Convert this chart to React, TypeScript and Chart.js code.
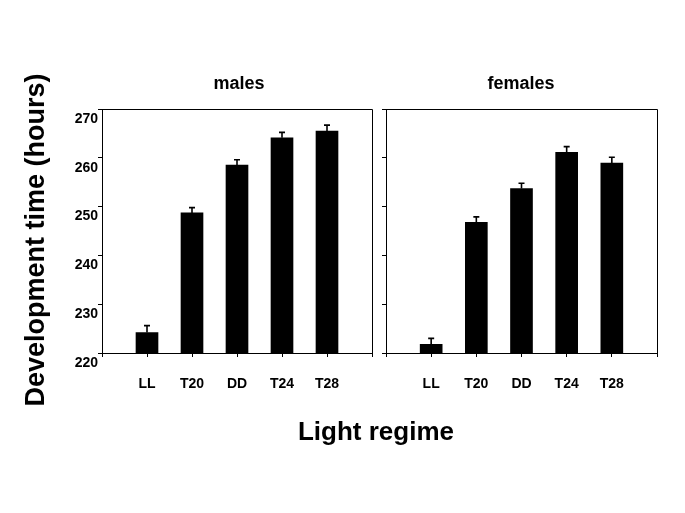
import React, { useEffect, useRef } from 'react';
import { Chart, registerables } from 'chart.js';

Chart.register(...registerables);

// ---- data ----
const categories = ['', 'LL', 'T20', 'DD', 'T24', 'T28', ''];
const malesMeans = [null, 224.2, 248.7, 258.5, 264.1, 265.5, null];
const malesErrors = [0, 1.4, 1.1, 1.1, 1.1, 1.2, 0];
const femalesMeans = [null, 221.8, 246.8, 253.7, 261.1, 258.9, null];
const femalesErrors = [0, 1.2, 1.1, 1.1, 1.2, 1.2, 0];
const yTickValues = [220, 230, 240, 250, 260, 270];
const panelTitles = ['males', 'females'];
const xAxisTitle = 'Light regime';
const yAxisTitle = 'Development time (hours)';

const FONT = '"Liberation Sans", Arial, Helvetica, sans-serif';
const X_TICK_PAD = 19;

function errorBarPlugin(errors: number[]) {
  return {
    id: 'errorBars',
    afterDatasetsDraw(chart: any) {
      const meta = chart.getDatasetMeta(0);
      const yScale = chart.scales.y;
      const ctx = chart.ctx;
      const data = chart.data.datasets[0].data;
      ctx.save();
      ctx.strokeStyle = '#000';
      ctx.lineWidth = 1.6;
      meta.data.forEach((el: any, i: number) => {
        const v = data[i];
        if (v == null) return;
        const x = el.x;
        const yBar = yScale.getPixelForValue(v);
        const yTop = yScale.getPixelForValue(v + errors[i]);
        ctx.beginPath();
        ctx.moveTo(x, yBar);
        ctx.lineTo(x, yTop);
        ctx.moveTo(x - 3, yTop);
        ctx.lineTo(x + 3, yTop);
        ctx.stroke();
      });
      ctx.restore();
    },
  };
}

const boxPlugin = {
  id: 'frameBox',
  afterDraw(chart: any) {
    const { left, right, top, bottom } = chart.chartArea;
    const ctx = chart.ctx;
    ctx.save();
    ctx.strokeStyle = '#000';
    ctx.lineWidth = 1;
    ctx.beginPath();
    ctx.moveTo(left, top + 0.5);
    ctx.lineTo(right + 0.5, top + 0.5);
    ctx.lineTo(right + 0.5, bottom);
    ctx.stroke();
    ctx.restore();
  },
};

function makeConfig(
  means: (number | null)[],
  errors: number[],
  showYLabels: boolean,
  yWidth: number,
  xHeight: number,
  padding: any
): any {
  return {
    type: 'bar',
    data: {
      labels: categories,
      datasets: [
        {
          data: means,
          backgroundColor: '#000',
          borderWidth: 0,
          barThickness: 22,
        },
      ],
    },
    options: {
      responsive: false,
      animation: false,
      devicePixelRatio: 1,
      layout: { padding },
      plugins: {
        legend: { display: false },
        tooltip: { enabled: false },
        title: { display: false },
      },
      scales: {
        x: {
          type: 'category',
          offset: false,
          grid: {
            offset: false,
            drawOnChartArea: false,
            drawTicks: true,
            tickLength: 4,
            color: '#000',
          },
          border: { color: '#000', width: 1 },
          ticks: {
            color: '#000',
            font: { family: FONT, size: 14, weight: 'bold' },
            padding: X_TICK_PAD,
            maxRotation: 0,
            autoSkip: false,
          },
          afterFit: (s: any) => {
            s.height = xHeight;
          },
        },
        y: {
          type: 'linear',
          min: 220,
          max: 270,
          afterBuildTicks: (s: any) => {
            s.ticks = yTickValues.map((v) => ({ value: v }));
          },
          grid: {
            drawOnChartArea: false,
            drawTicks: true,
            tickLength: 4,
            color: '#000',
          },
          border: { color: '#000', width: 1 },
          ticks: {
            display: showYLabels,
            color: '#000',
            font: { family: FONT, size: 14, weight: 'bold' },
            padding: 0,
            labelOffset: 10,
          },
          afterFit: (s: any) => {
            s.width = yWidth;
          },
        },
      },
    },
    plugins: [errorBarPlugin(errors), boxPlugin],
  };
}

function Panel(props: {
  means: (number | null)[];
  errors: number[];
  showYLabels: boolean;
  yWidth: number;
  xHeight: number;
  padding: any;
  width: number;
  height: number;
  left: number;
}) {
  const ref = useRef<HTMLCanvasElement>(null);
  useEffect(() => {
    if (!ref.current) return;
    const chart = new Chart(
      ref.current,
      makeConfig(props.means, props.errors, props.showYLabels, props.yWidth, props.xHeight, props.padding)
    );
    return () => chart.destroy();
  }, []);
  return (
    <canvas
      ref={ref}
      width={props.width}
      height={props.height}
      style={{ position: 'absolute', left: props.left, top: 0, width: props.width, height: props.height, display: 'block' }}
    />
  );
}

export default function App() {
  const titleStyle: React.CSSProperties = {
    position: 'absolute',
    fontFamily: FONT,
    fontWeight: 'bold',
    color: '#000',
    textAlign: 'center',
    whiteSpace: 'nowrap',
  };
  return (
    <div
      style={{
        position: 'fixed',
        left: 0,
        top: 0,
        width: 685,
        height: 513,
        background: '#fff',
        overflow: 'hidden',
      }}
    >
      <Panel
        means={malesMeans}
        errors={malesErrors}
        showYLabels={true}
        yWidth={102}
        xHeight={67}
        padding={{ top: 109, right: X_TICK_PAD, left: 0, bottom: 0 }}
        width={372 + X_TICK_PAD}
        height={420}
        left={0}
      />
      <Panel
        means={femalesMeans}
        errors={femalesErrors}
        showYLabels={false}
        yWidth={X_TICK_PAD}
        xHeight={67}
        padding={{ top: 109, right: 28, left: 0, bottom: 0 }}
        width={685 - (386 - X_TICK_PAD)}
        height={420}
        left={386 - X_TICK_PAD}
      />
      <div style={{ ...titleStyle, left: 139, top: 72, width: 200, fontSize: 18, lineHeight: '22px' }}>
        {panelTitles[0]}
      </div>
      <div style={{ ...titleStyle, left: 421, top: 72, width: 200, fontSize: 18, lineHeight: '22px' }}>
        {panelTitles[1]}
      </div>
      <div style={{ ...titleStyle, left: 226, top: 416, width: 300, fontSize: 26, lineHeight: '30px' }}>
        {xAxisTitle}
      </div>
      <div
        style={{
          ...titleStyle,
          left: 35 - 200,
          top: 240 - 15,
          width: 400,
          height: 30,
          fontSize: 27,
          lineHeight: '30px',
          transform: 'rotate(-90deg)',
          transformOrigin: '50% 50%',
        }}
      >
        {yAxisTitle}
      </div>
    </div>
  );
}
